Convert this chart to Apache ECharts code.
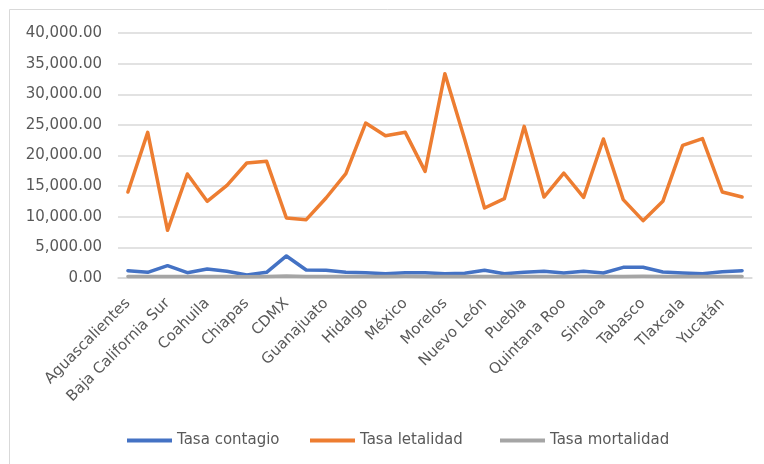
<!DOCTYPE html>
<html>
<head>
<meta charset="utf-8">
<script src="https://cdn.jsdelivr.net/npm/echarts@6/dist/echarts.min.js"></script>
<style>
  html, body { margin: 0; padding: 0; background: #ffffff; }
  #chart { width: 764px; height: 464px; }
</style>
</head>
<body>
<div id="chart"></div>
<script>
// Estados de la República
const estados = [
  'Aguascalientes', 'Baja California', 'Baja California Sur', 'Campeche',
  'Coahuila', 'Colima', 'Chiapas', 'Chihuahua', 'CDMX', 'Durango',
  'Guanajuato', 'Guerrero', 'Hidalgo', 'Jalisco', 'México', 'Michoacán',
  'Morelos', 'Nayarit', 'Nuevo León', 'Oaxaca', 'Puebla', 'Querétaro',
  'Quintana Roo', 'San Luis Potosí', 'Sinaloa', 'Sonora', 'Tabasco',
  'Tamaulipas', 'Tlaxcala', 'Veracruz', 'Yucatán', 'Zacatecas'
];

const tasaContagio = [
  1200, 925, 2016, 870, 1470, 1090, 500, 925, 3600, 1300,
  1250, 925, 870, 700, 870, 870, 700, 760, 1250, 700,
  925, 1090, 815, 1090, 815, 1744, 1744, 980, 815, 700,
  1035, 1200
];

const tasaLetalidad = [
  14040, 23780, 7780, 16980, 12520, 15130, 18780, 19050, 9800, 9520,
  13060, 17030, 25300, 23240, 23780, 17410, 33360, 22600, 11430, 12950,
  24760, 13220, 17140, 13170, 22690, 12790, 9360, 12520, 21660, 22750,
  14040, 13220
];

const tasaMortalidad = [
  260, 250, 240, 230, 250, 260, 220, 240, 320, 250,
  260, 240, 250, 240, 270, 250, 260, 240, 250, 230,
  260, 240, 230, 250, 250, 260, 270, 250, 240, 230,
  250, 240
];

const seriesNames = ['Tasa contagio', 'Tasa letalidad', 'Tasa mortalidad'];
const seriesColors = ['#4472c4', '#ed7d31', '#a5a5a5'];

const yTicks = { min: 0, max: 40000, interval: 5000 };

const txt = '#595959';
const fontFamily = 'DejaVu Sans';

function fmt(v) {
  const s = Math.round(v).toString().replace(/\B(?=(\d{3})+(?!\d))/g, ',');
  return s + '.00';
}

const chart = echarts.init(document.getElementById('chart'), null, { renderer: 'canvas' });

function lineSeries(name, data, color) {
  return {
    name: name,
    type: 'line',
    data: data,
    showSymbol: false,
    symbol: 'none',
    smooth: false,
    lineStyle: { color: color, width: 3.5, cap: 'round', join: 'round' },
    itemStyle: { color: color },
    emphasis: { disabled: true }
  };
}

// one legend block per series so each entry sits at its own offset
const legendLefts = [122, 305, 495];
const legends = seriesNames.map((name, i) => ({
  left: legendLefts[i],
  top: 428,
  icon: 'rect',
  itemWidth: 45,
  itemHeight: 4,
  textStyle: { color: txt, fontSize: 15, fontFamily: fontFamily },
  data: [name]
}));

chart.setOption({
  animation: false,
  backgroundColor: '#ffffff',
  textStyle: { fontFamily: fontFamily },
  graphic: [{
    type: 'rect',
    shape: { x: 9.5, y: 9.5, width: 800, height: 500 },
    style: { fill: 'none', stroke: '#d9d9d9', lineWidth: 1 },
    silent: true
  }],
  grid: { left: 118, top: 33, width: 634, height: 245, containLabel: false },
  legend: legends,
  xAxis: {
    type: 'category',
    data: estados,
    boundaryGap: true,
    axisLine: { show: true, lineStyle: { color: '#d9d9d9', width: 1.5 } },
    axisTick: { show: false },
    axisLabel: {
      interval: 1,
      rotate: 45,
      margin: 23,
      color: txt,
      fontSize: 15,
      fontFamily: fontFamily
    }
  },
  yAxis: {
    type: 'value',
    min: yTicks.min,
    max: yTicks.max,
    interval: yTicks.interval,
    axisLine: { show: false },
    axisTick: { show: false },
    splitLine: { lineStyle: { color: '#d9d9d9', width: 1.5 } },
    axisLabel: {
      margin: 16,
      color: txt,
      fontSize: 15,
      fontFamily: fontFamily,
      formatter: fmt
    }
  },
  series: [
    lineSeries(seriesNames[0], tasaContagio, seriesColors[0]),
    lineSeries(seriesNames[1], tasaLetalidad, seriesColors[1]),
    lineSeries(seriesNames[2], tasaMortalidad, seriesColors[2])
  ]
});
</script>
</body>
</html>
